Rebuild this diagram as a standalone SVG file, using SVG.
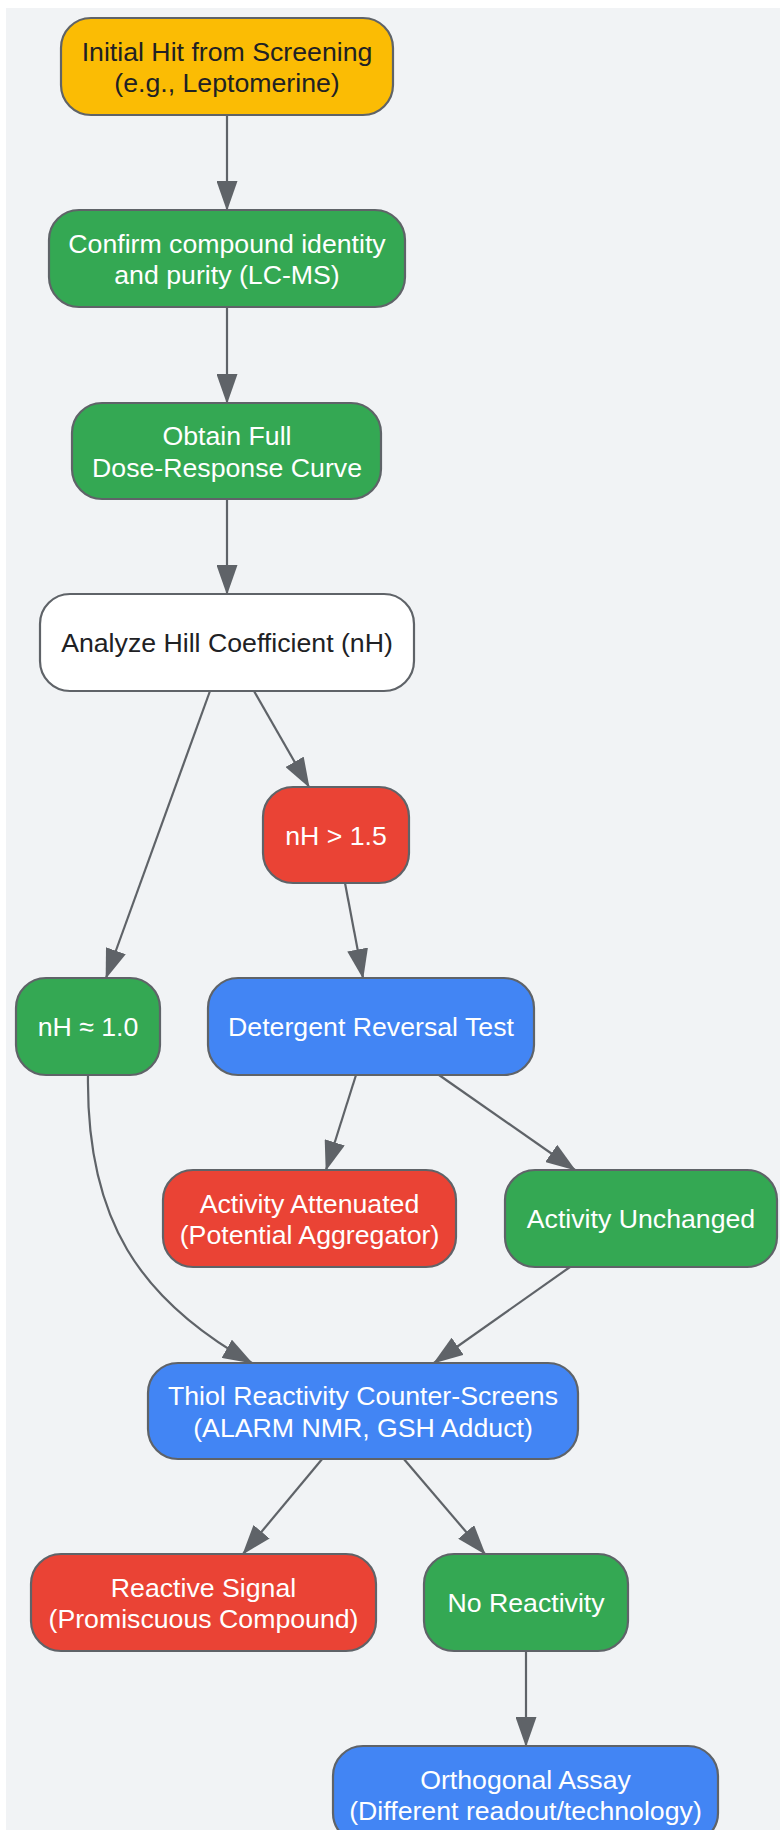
<svg xmlns="http://www.w3.org/2000/svg" width="780" height="1830" viewBox="0 0 780 1830">
<style>
.n rect{stroke:#5f6368;stroke-width:2.2}
.n text{font-family:"Liberation Sans",Arial,sans-serif;font-size:26.7px;text-anchor:middle}
.lt{fill:#ffffff}
.dk{fill:#202124}
.y{fill:#fbbc04}.g{fill:#34a853}.r{fill:#ea4335}.b{fill:#4285f4}.w{fill:#ffffff}
.e path{fill:none;stroke:#5f6368;stroke-width:2.2;marker-end:url(#ah)}
</style>
<defs>
<marker id="ah" viewBox="0 0 30 21" refX="29" refY="10.5" markerWidth="30" markerHeight="21" markerUnits="userSpaceOnUse" orient="auto">
<path d="M0,0 L30,10.5 L0,21 z" fill="#5f6368"/>
</marker>
</defs>
<rect x="0" y="0" width="780" height="1830" fill="#ffffff"/>
<rect x="6" y="8" width="774" height="1822" fill="#f1f3f5"/>
<g id="connectors" class="e">
<path d="M227,115 L227,210"/>
<path d="M227,307 L227,403"/>
<path d="M227,499 L227,594"/>
<path d="M254,691 L309,787"/>
<path d="M210,691 L106,978"/>
<path d="M345,883 L363,978"/>
<path d="M356,1075 L326,1170"/>
<path d="M439,1075 L575,1170"/>
<path d="M88,1075 C86,1220 140,1300 252,1363"/>
<path d="M570,1267 L434,1363"/>
<path d="M323,1458 L243,1554"/>
<path d="M403,1458 L485,1554"/>
<path d="M526,1651 L526,1746"/>
</g>
<g id="n1" class="n"><rect class="y" x="61" y="18" width="332" height="97" rx="30"/><text class="dk" x="227" y="60.5">Initial Hit from Screening</text><text class="dk" x="227" y="92">(e.g., Leptomerine)</text></g>
<g id="n2" class="n"><rect class="g" x="49" y="210" width="356" height="97" rx="30"/><text class="lt" x="227" y="252.5">Confirm compound identity</text><text class="lt" x="227" y="284">and purity (LC-MS)</text></g>
<g id="n3" class="n"><rect class="g" x="72" y="403" width="309" height="96" rx="30"/><text class="lt" x="227" y="445">Obtain Full</text><text class="lt" x="227" y="476.5">Dose-Response Curve</text></g>
<g id="n4" class="n"><rect class="w" x="40" y="594" width="374" height="97" rx="30"/><text class="dk" x="227" y="652">Analyze Hill Coefficient (nH)</text></g>
<g id="n5" class="n"><rect class="r" x="263" y="787" width="146" height="96" rx="30"/><text class="lt" x="336" y="844.5">nH &gt; 1.5</text></g>
<g id="n6" class="n"><rect class="g" x="16" y="978" width="144" height="97" rx="30"/><text class="lt" x="88" y="1036">nH ≈ 1.0</text></g>
<g id="n7" class="n"><rect class="b" x="208" y="978" width="326" height="97" rx="30"/><text class="lt" x="371" y="1036">Detergent Reversal Test</text></g>
<g id="n8" class="n"><rect class="r" x="163" y="1170" width="293" height="97" rx="30"/><text class="lt" x="309.5" y="1212.5">Activity Attenuated</text><text class="lt" x="309.5" y="1244">(Potential Aggregator)</text></g>
<g id="n9" class="n"><rect class="g" x="505" y="1170" width="272" height="97" rx="30"/><text class="lt" x="641" y="1228">Activity Unchanged</text></g>
<g id="n10" class="n"><rect class="b" x="148" y="1363" width="430" height="96" rx="30"/><text class="lt" x="363" y="1405">Thiol Reactivity Counter-Screens</text><text class="lt" x="363" y="1436.5">(ALARM NMR, GSH Adduct)</text></g>
<g id="n11" class="n"><rect class="r" x="31" y="1554" width="345" height="97" rx="30"/><text class="lt" x="203.5" y="1596.5">Reactive Signal</text><text class="lt" x="203.5" y="1628">(Promiscuous Compound)</text></g>
<g id="n12" class="n"><rect class="g" x="424" y="1554" width="204" height="97" rx="30"/><text class="lt" x="526" y="1612">No Reactivity</text></g>
<g id="n13" class="n"><rect class="b" x="333" y="1746" width="385" height="97" rx="30"/><text class="lt" x="525.5" y="1788.5">Orthogonal Assay</text><text class="lt" x="525.5" y="1820">(Different readout/technology)</text></g>
</svg>
